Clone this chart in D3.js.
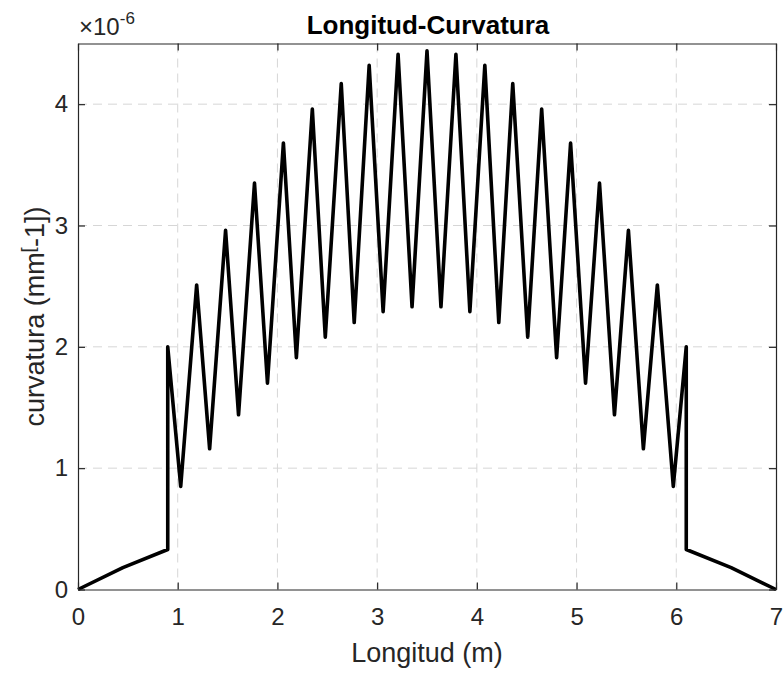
<!DOCTYPE html>
<html>
<head>
<meta charset="utf-8">
<script src="https://cdn.jsdelivr.net/npm/d3@7"></script>
<style>
  body { margin: 0; background: #fff; }
  svg { display: block; font-family: "Liberation Sans", Arial, Helvetica, sans-serif; }
</style>
</head>
<body>
<svg id="chart" width="784" height="677"></svg>
<script>
// ---- data (curvature in units of 1e-6 mm^-1) ----
const startX = [0, 0.45, 0.9];
const startY = [0, 0.18, 0.33];
const peakX = [0.9, 1.19, 1.48, 1.77, 2.06, 2.35, 2.64, 2.92, 3.21, 3.50, 3.79, 4.08, 4.36, 4.65, 4.94, 5.23, 5.52, 5.81, 6.1];
const peakY = [2.0, 2.51, 2.96, 3.35, 3.68, 3.96, 4.17, 4.32, 4.41, 4.44, 4.41, 4.32, 4.17, 3.96, 3.68, 3.35, 2.96, 2.51, 2.0];
const valleyX = [1.03, 1.32, 1.61, 1.90, 2.19, 2.48, 2.77, 3.06, 3.35, 3.64, 3.93, 4.22, 4.51, 4.80, 5.09, 5.38, 5.67, 5.97];
const valleyY = [0.85, 1.16, 1.44, 1.70, 1.91, 2.08, 2.20, 2.29, 2.33, 2.33, 2.29, 2.20, 2.08, 1.91, 1.70, 1.44, 1.16, 0.85];
const endX = [6.1, 6.55, 7];
const endY = [0.33, 0.18, 0];
const xTicks = [0, 1, 2, 3, 4, 5, 6, 7];
const yTicks = [0, 1, 2, 3, 4];

// build the point sequence
const pts = [];
startX.forEach((x, i) => pts.push([x, startY[i]]));
peakX.forEach((x, i) => {
  pts.push([x, peakY[i]]);
  if (i < valleyX.length) pts.push([valleyX[i], valleyY[i]]);
});
endX.forEach((x, i) => pts.push([x, endY[i]]));

const svg = d3.select("#chart");
const L = 78, R = 776, T = 43.5, B = 589.5;
const x = d3.scaleLinear().domain([0, 7]).range([L, R]);
const y = d3.scaleLinear().domain([0, 4.5]).range([B, T]);
const textCol = "#262626";

// grid
const grid = svg.append("g").attr("stroke", "#d6d6d6").attr("stroke-width", 1).attr("stroke-dasharray", "9,6");
grid.selectAll("line.vx").data(xTicks.slice(1, -1)).enter().append("line")
  .attr("x1", d => x(d)).attr("x2", d => x(d)).attr("y1", T).attr("y2", B);
grid.selectAll("line.hy").data(yTicks.slice(1)).enter().append("line")
  .attr("x1", L).attr("x2", R).attr("y1", d => y(d)).attr("y2", d => y(d));

// data line
svg.append("path")
  .datum(pts)
  .attr("fill", "none")
  .attr("stroke", "#000")
  .attr("stroke-width", 3.6)
  .attr("stroke-linejoin", "round")
  .attr("d", d3.line().x(d => x(d[0])).y(d => y(d[1])));

// axes (MATLAB style, ticks inward, box)
const tk = 7;
const xAxisB = d3.axisBottom(x).tickValues(xTicks).tickSizeInner(-tk).tickSizeOuter(0).tickPadding(18).tickFormat(d3.format("d"));
const xAxisT = d3.axisTop(x).tickValues(xTicks).tickSizeInner(-tk).tickSizeOuter(0).tickFormat("");
const yAxisL = d3.axisLeft(y).tickValues(yTicks).tickSizeInner(-tk).tickSizeOuter(0).tickPadding(10).tickFormat(d3.format("d"));
const yAxisR = d3.axisRight(y).tickValues(yTicks).tickSizeInner(-tk).tickSizeOuter(0).tickFormat("");

function style(g) {
  g.select(".domain").attr("stroke", textCol).attr("stroke-width", 1.2);
  g.selectAll(".tick line").attr("stroke", textCol).attr("stroke-width", 1.2);
  g.selectAll(".tick text").attr("fill", textCol).attr("font-size", 24).attr("font-family", "Liberation Sans, Arial, sans-serif");
}
svg.append("g").attr("transform", `translate(0,${B})`).call(xAxisB).call(style);
svg.append("g").attr("transform", `translate(0,${T})`).call(xAxisT).call(style);
svg.append("g").attr("transform", `translate(${L},0)`).call(yAxisL).call(style);
svg.append("g").attr("transform", `translate(${R},0)`).call(yAxisR).call(style);

// title
svg.append("text").attr("x", 428).attr("y", 34).attr("text-anchor", "middle")
  .attr("font-size", 26).attr("font-weight", "bold").attr("fill", "#000")
  .text("Longitud-Curvatura");

// exponent label
const ex = svg.append("text").attr("x", 79).attr("y", 35).attr("fill", textCol).attr("font-size", 24);
ex.append("tspan").text("\u00d710");
ex.append("tspan").attr("font-size", 17).attr("dy", -11).text("-6");

// x label
svg.append("text").attr("x", 427).attr("y", 662).attr("text-anchor", "middle")
  .attr("font-size", 27).attr("fill", textCol).text("Longitud (m)");

// y label
const yl = svg.append("text").attr("transform", `translate(44,${(T + B) / 2}) rotate(-90)`)
  .attr("text-anchor", "middle").attr("font-size", 27).attr("fill", textCol);
yl.append("tspan").text("curvatura (mm");
yl.append("tspan").attr("font-size", 19).attr("dy", -10).text("[");
yl.append("tspan").attr("dy", 10).text("-1])");
</script>
</body>
</html>
